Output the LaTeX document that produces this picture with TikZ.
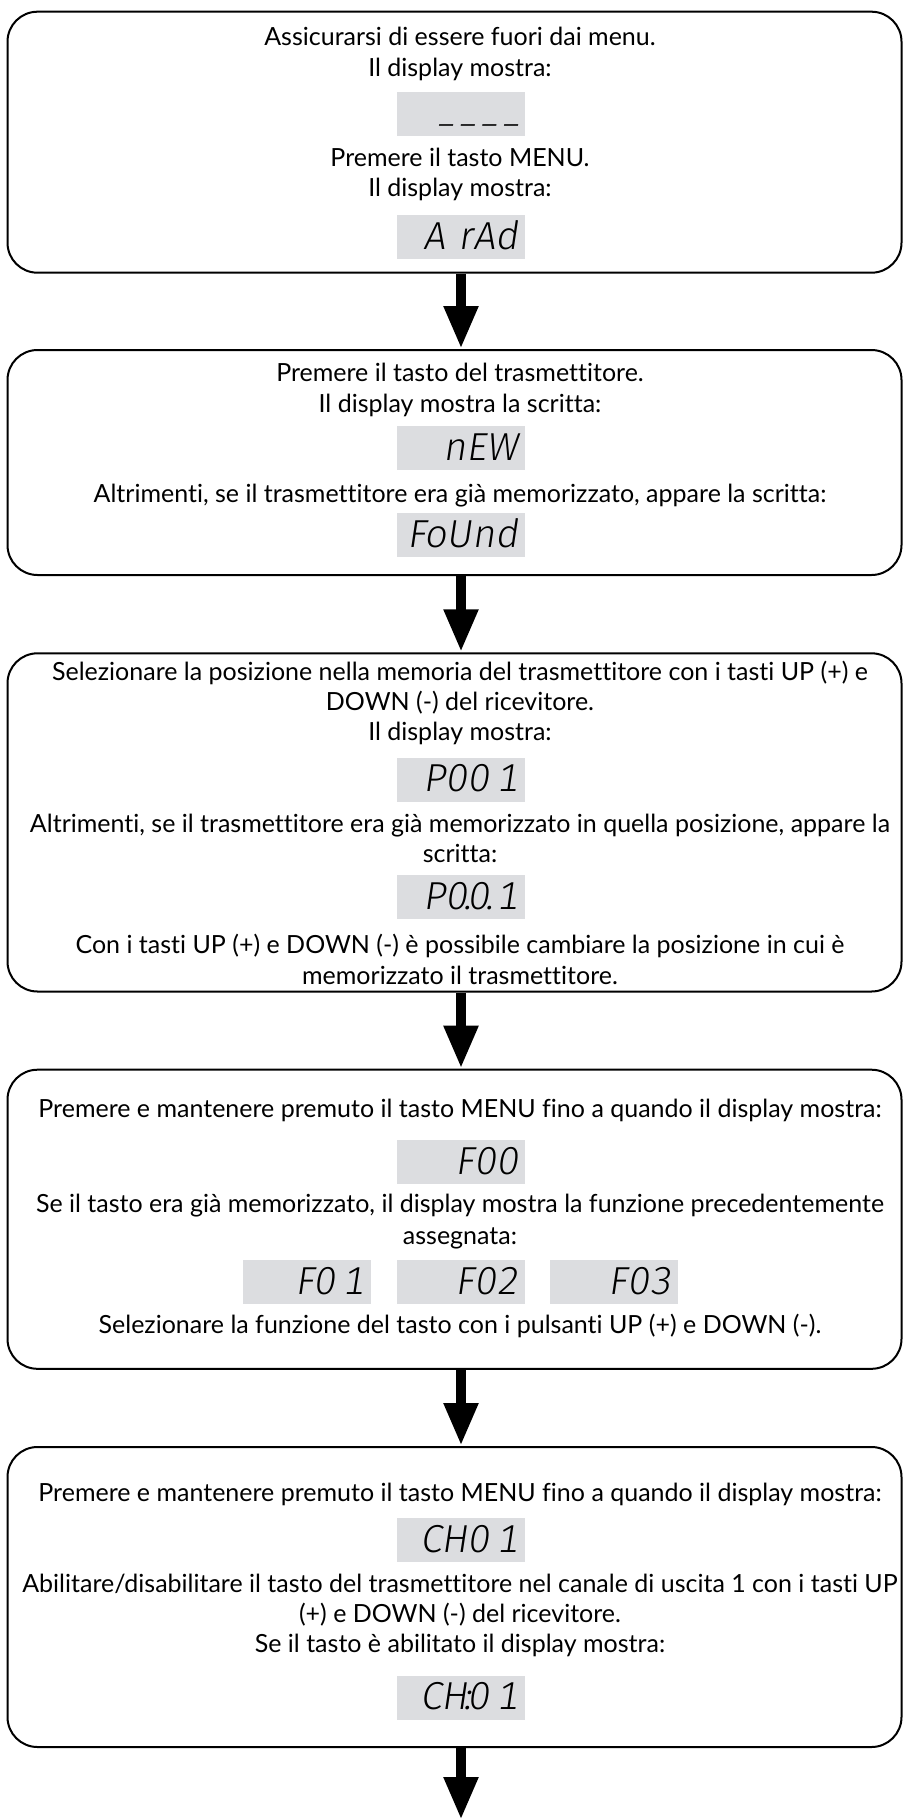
\documentclass[tikz,border=0pt]{standalone}
\usepackage{fontspec}
\setmainfont{Lato}[Ligatures=NoCommon]
\newfontfamily\segfont{Fira Sans Light}[FakeSlant=0.15, Numbers={Monospaced,Lining}]
\usetikzlibrary{arrows.meta}
\definecolor{dispgray}{RGB}{220,221,224}
\tikzset{
  stepbox/.style={draw, line width=2pt, rounded corners=30pt, minimum width=894pt, inner sep=0pt},
  txt/.style={anchor=base, inner sep=0pt, font=\fontsize{25}{30}\selectfont},
  disp/.style={fill=dispgray, minimum width=128pt, minimum height=44pt, text width=114pt, align=right,
    inner xsep=7pt, inner ysep=0pt, text height=26pt, text depth=2pt, font=\segfont\fontsize{39}{39}\selectfont},
  flow/.style={line width=10.7pt, -{Triangle[width=32pt,length=43pt]}},
}
\begin{document}
\begin{tikzpicture}[x=1pt,y=-1pt]
\useasboundingbox (0,0) rectangle (904,1820);
% boxes
\node[stepbox, minimum height=261pt] (b1) at (454.5,142.2) {};
\node[stepbox, minimum height=225pt] (b2) at (454.5,462.5) {};
\node[stepbox, minimum height=338.2pt] (b3) at (454.5,822.4) {};
\node[stepbox, minimum height=299.1pt] (b4) at (454.5,1219.25) {};
\node[stepbox, minimum height=300pt] (b5) at (454.5,1597) {};
% box 1
\node[txt] (t1a) at (460,45.7) {Assicurarsi di essere fuori dai menu.};
\node[txt] (t1b) at (460,76) {Il display mostra:};
\node[disp] (d1) at (461,114) {\raisebox{-9pt}{\fontsize{32}{32}\selectfont –\kern5pt–\kern5pt–\kern5pt–}};
\node[txt] (t1c) at (460,166.7) {Premere il tasto MENU.};
\node[txt] (t1d) at (460,196.7) {Il display mostra:};
\node[disp] (d2) at (461,237) {A rAd};
% box 2
\node[txt] (t2a) at (460,381.3) {Premere il tasto del trasmettitore.};
\node[txt] (t2b) at (460,412.3) {Il display mostra la scritta:};
\node[disp] (d3) at (461,448) {nEW};
\node[txt] (t2c) at (460,502.3) {Altrimenti, se il trasmettitore era già memorizzato, appare la scritta:};
\node[disp] (d4) at (461,535) {FoUnd};
% box 3
\node[txt] (t3a) at (460,680) {Selezionare la posizione nella memoria del trasmettitore con i tasti UP (+) e};
\node[txt] (t3b) at (460,710.7) {DOWN (-) del ricevitore.};
\node[txt] (t3c) at (460,740.7) {Il display mostra:};
\node[disp] (d5) at (461,779.5) {P00\,1};
\node[txt] (t3d) at (460,832) {Altrimenti, se il trasmettitore era già memorizzato in quella posizione, appare la};
\node[txt] (t3e) at (460,862.3) {scritta:};
\node[disp] (d6) at (461,897) {P0\makebox[0pt]{.}0\makebox[0pt]{.}\,1};
\node[txt] (t3f) at (460,953) {Con i tasti UP (+) e DOWN (-) è possibile cambiare la posizione in cui è};
\node[txt] (t3g) at (460,984) {memorizzato il trasmettitore.};
% box 4
\node[txt] (t4a) at (460,1117) {Premere e mantenere premuto il tasto MENU fino a quando il display mostra:};
\node[disp] (d7) at (461,1162) {F00};
\node[txt] (t4b) at (460,1212.7) {Se il tasto era già memorizzato, il display mostra la funzione precedentemente};
\node[txt] (t4c) at (460,1244.7) {assegnata:};
\node[disp] (d8) at (307,1282) {F0\,1};
\node[disp] (d9) at (461,1282) {F02};
\node[disp] (d10) at (614,1282) {F03};
\node[txt] (t4d) at (460,1333.7) {Selezionare la funzione del tasto con i pulsanti UP (+) e DOWN (-).};
% box 5
\node[txt] (t5a) at (460,1501) {Premere e mantenere premuto il tasto MENU fino a quando il display mostra:};
\node[disp] (d11) at (461,1540) {CH0\,1};
\node[txt] (t5b) at (460,1592.7) {Abilitare/disabilitare il tasto del trasmettitore nel canale di uscita 1 con i tasti UP};
\node[txt] (t5c) at (460,1622.7) {(+) e DOWN (-) del ricevitore.};
\node[txt] (t5d) at (460,1652.7) {Se il tasto è abilitato il display mostra:};
\node[disp] (d12) at (461,1697.5) {CH\makebox[0pt]{:}0\,1};
% arrows
\coordinate (ax) at (461,0);
\coordinate (end) at (461,1820);
\draw[flow] (ax |- b1.south) -- (ax |- b2.north);
\draw[flow] (ax |- b2.south) -- (ax |- b3.north);
\draw[flow] (ax |- b3.south) -- (ax |- b4.north);
\draw[flow] (ax |- b4.south) -- (ax |- b5.north);
\draw[flow] (ax |- b5.south) -- (end);
\end{tikzpicture}
\end{document}
